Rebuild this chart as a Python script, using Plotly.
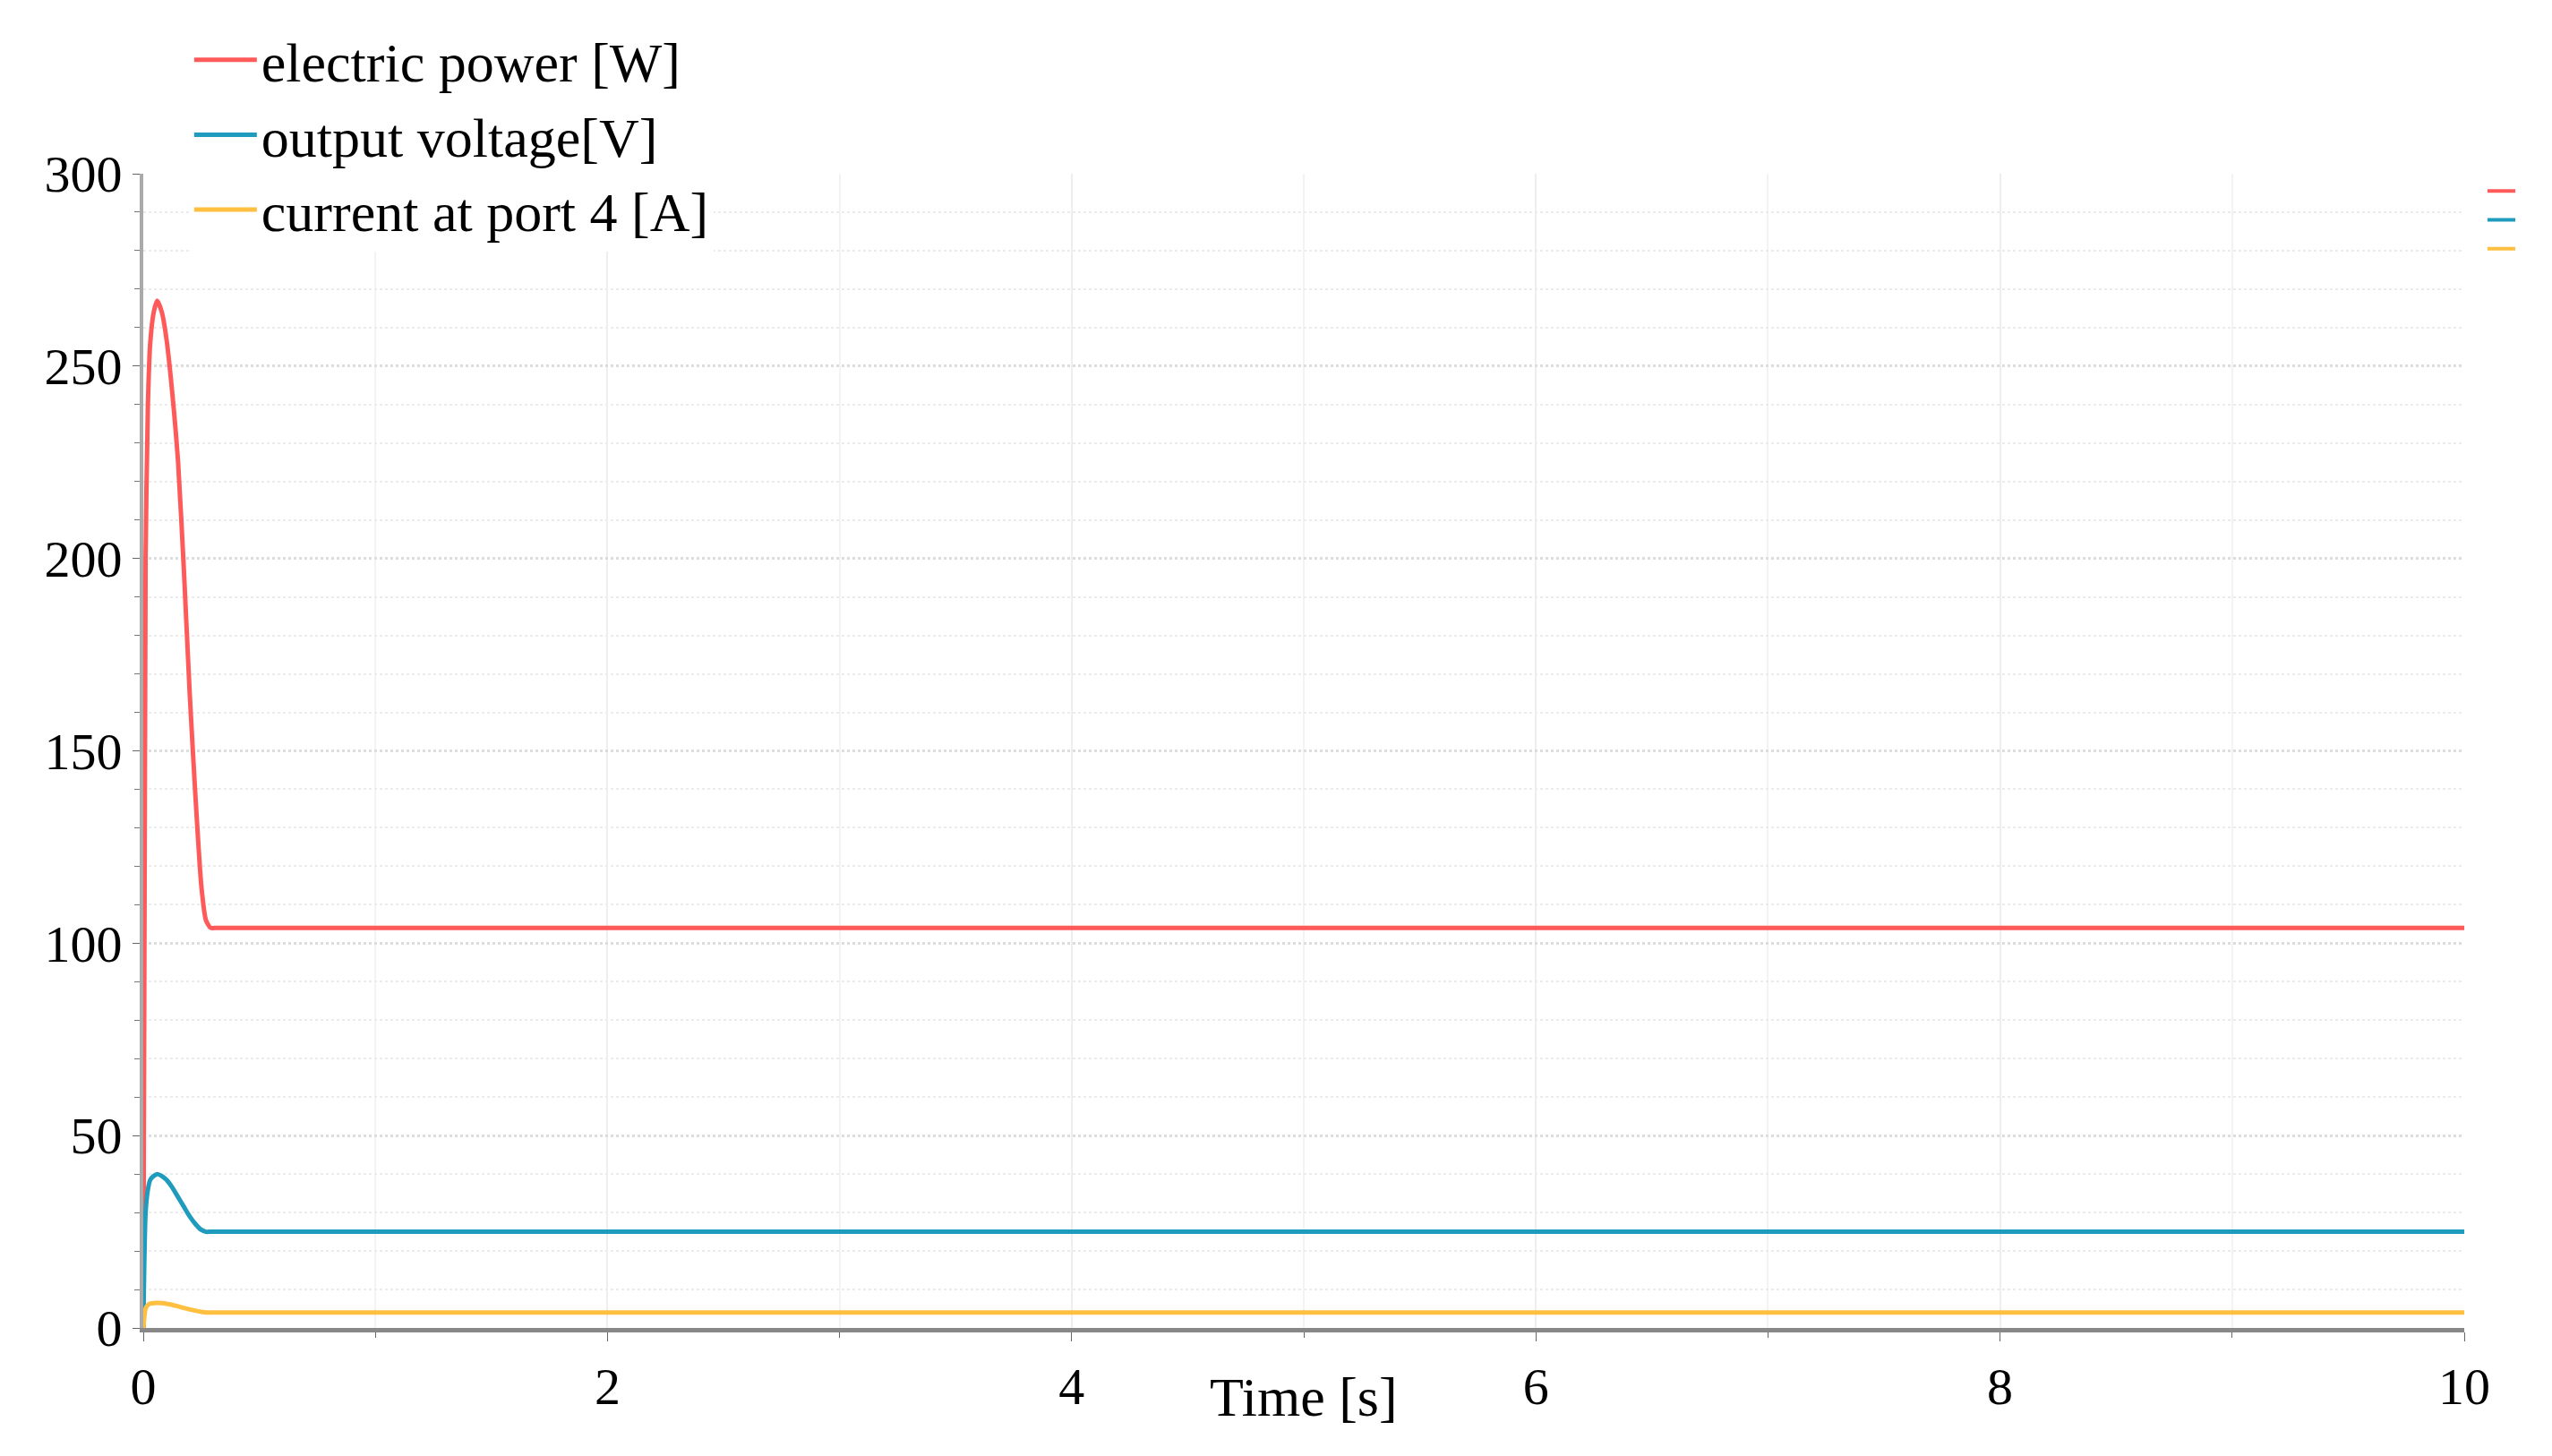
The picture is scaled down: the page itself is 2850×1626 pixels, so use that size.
import plotly.graph_objects as go

time_s = [0, 0.01, 0.02, 0.03, 0.045, 0.06, 0.08, 0.1, 0.125, 0.15, 0.175, 0.2, 0.225, 0.25, 0.27, 0.29, 0.32, 10]
power_w = [0, 200, 240, 256, 264, 267, 264, 257, 243, 225, 197, 165, 138, 115, 106, 104, 104, 104]
voltage_v = [0, 30, 36, 38.5, 39.5, 40, 39.5, 38.5, 36.5, 34, 31.5, 29, 27, 25.5, 25, 25, 25, 25]
current_a = [0, 5, 6, 6.3, 6.45, 6.5, 6.45, 6.3, 6, 5.6, 5.2, 4.8, 4.5, 4.2, 4, 4, 4, 4]

names = ['electric power [W]', 'output voltage[V]', 'current at port 4 [A]']
colors = ['#ff5a5a', '#1f9bbd', '#ffbf40']
font = 'Liberation Serif'

fig = go.Figure()
for name, y, c in zip(names, [power_w, voltage_v, current_a], colors):
    fig.add_trace(go.Scatter(x=time_s, y=y, name=name, mode='lines',
                             line=dict(color=c, width=5, shape='spline', smoothing=0.6)))

fig.update_layout(
    width=2850, height=1626, plot_bgcolor='white', paper_bgcolor='white',
    margin=dict(l=152, r=106, t=186, b=151),
    font=dict(family=font, size=58, color='black'),
    legend=dict(x=0.02, y=1.135, xanchor='left', yanchor='top', bgcolor='white',
                font=dict(size=62), itemwidth=70, tracegroupgap=0),
    annotations=[dict(text='Time [s]', x=5, y=-0.06, xref='x', yref='paper',
                      showarrow=False, font=dict(size=62), yanchor='middle')],
    shapes=[dict(type='line', xref='paper', yref='paper', x0=1.01, x1=1.022,
                 y0=y0, y1=y0, line=dict(color=c, width=4))
            for y0, c in zip([0.985, 0.96, 0.935], colors)],
)
fig.update_xaxes(range=[0, 10], dtick=2, showline=True, linecolor='#888', linewidth=5,
                 ticks='outside', ticklen=10, tickcolor='#666', showgrid=True,
                 gridcolor='#eeeeee', gridwidth=2, zeroline=False,
                 minor=dict(dtick=1, ticks='outside', ticklen=6, tickcolor='#666',
                            showgrid=True, gridcolor='#f3f3f3'))
fig.update_yaxes(range=[0, 300], dtick=50, showline=True, linecolor='#aaa', linewidth=4,
                 ticks='outside', ticklen=8, tickcolor='#666', showgrid=True,
                 gridcolor='#dddddd', gridwidth=3, griddash='dot', zeroline=False,
                 minor=dict(dtick=10, ticks='outside', ticklen=6, tickcolor='#777',
                            showgrid=True, gridcolor='#ebebeb', griddash='dot', gridwidth=2))
fig.write_html('out.html')
